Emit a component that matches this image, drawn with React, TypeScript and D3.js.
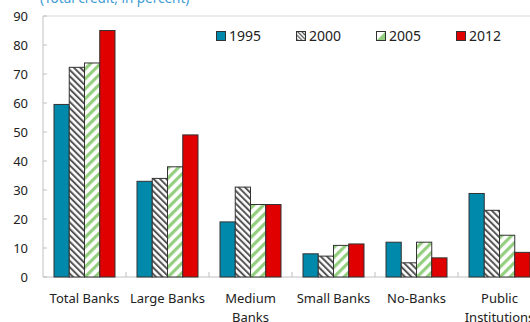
import React from "react";
import * as d3 from "d3";

const categories = ["Total Banks", "Large Banks", "Medium Banks", "Small Banks", "No-Banks", "Public Institutions"];
const categoryLines = [["Total Banks"], ["Large Banks"], ["Medium", "Banks"], ["Small Banks"], ["No-Banks"], ["Public", "Institutions"]];
const seriesNames = ["1995", "2000", "2005", "2012"];
const v1995 = [59.5, 33, 19, 8, 12, 28.8];
const v2000 = [72.3, 34, 31, 7.2, 4.9, 23];
const v2005 = [73.8, 38, 25, 10.9, 12, 14.4];
const v2012 = [85, 49, 25, 11.4, 6.6, 8.5];
const yTicks = [0, 10, 20, 30, 40, 50, 60, 70, 80, 90];
const title = "(Total credit, in percent)";

const seriesValues = [v1995, v2000, v2005, v2012];
const fills = ["#0089aa", "url(#hatch2000)", "url(#hatch2005)", "#e00000"];
const legendFills = ["#0089aa", "url(#lhatch2000)", "url(#lgrad2005)", "#e00000"];

const FONT = "'Noto Sans', 'Open Sans', sans-serif";

export default function App() {
  const W = 530, H = 322;
  const left = 43, right = 541, top = 16, bottom = 277;
  const x0 = d3.scaleBand<string>().domain(categories).range([left, right]).padding(0);
  const x1 = d3.scaleBand<string>().domain(seriesNames).range([11, x0.bandwidth() - 11]).padding(0);
  const y = d3.scaleLinear().domain([0, 90]).range([bottom, top]);
  const axisColor = "#c0c0c0";

  return (
    <svg width={W} height={H} style={{ position: "absolute", left: 0, top: 0, fontFamily: FONT }}>
      <defs>
        <pattern id="hatch2000" patternUnits="userSpaceOnUse" width="4.5" height="4.5" patternTransform="rotate(-45)">
          <rect width="4.5" height="4.5" fill="#fff" />
          <rect x="0" y="0" width="2" height="4.5" fill="#555" />
        </pattern>
        <pattern id="hatch2005" patternUnits="userSpaceOnUse" width="7" height="7" patternTransform="rotate(45)">
          <rect width="7" height="7" fill="#fff" />
          <rect x="0" y="0" width="3.2" height="7" fill="#93cf7f" />
        </pattern>
        <pattern id="lhatch2000" patternUnits="userSpaceOnUse" width="3" height="3" patternTransform="rotate(-45)">
          <rect width="3" height="3" fill="#fff" />
          <rect x="0" y="0" width="1.3" height="3" fill="#555" />
        </pattern>
        <linearGradient id="lgrad2005" x1="0" y1="0" x2="1" y2="1">
          <stop offset="0.45" stopColor="#ffffff" />
          <stop offset="0.55" stopColor="#93cf7f" />
        </linearGradient>
      </defs>
      <rect width={W} height={H} fill="#fff" />
      <text x={40} y={3} fontSize={13.5} fill="#3d9bd6">{title}</text>

      {/* plot frame */}
      <line x1={left} x2={W} y1={top} y2={top} stroke="#d9d9d9" />
      <line x1={left} x2={left} y1={top} y2={bottom} stroke={axisColor} />
      <line x1={left} x2={W} y1={bottom} y2={bottom} stroke={axisColor} />

      {yTicks.map((t) => (
        <g key={t}>
          <line x1={left} x2={left + 4} y1={y(t)} y2={y(t)} stroke={axisColor} />
          <text x={28} y={y(t)} dy="0.35em" textAnchor="end" fontSize={13} fill="#222">{t}</text>
        </g>
      ))}

      {categories.slice(1).map((c) => (
        <line key={c} x1={x0(c)!} x2={x0(c)!} y1={bottom} y2={bottom - 5} stroke={axisColor} />
      ))}

      {categories.map((c, ci) => (
        <g key={c} transform={`translate(${x0(c)},0)`}>
          {seriesNames.map((s, si) => {
            const v = seriesValues[si][ci];
            return (
              <rect key={s} x={x1(s)!} y={y(v)} width={x1.bandwidth()} height={bottom - y(v)}
                fill={fills[si]} stroke="#333" strokeWidth={1} />
            );
          })}
          {categoryLines[ci].map((ln, li) => (
            <text key={li} x={x0.bandwidth() / 2} y={298 + li * 19} dy="0.35em" textAnchor="middle" fontSize={13} fill="#222">{ln}</text>
          ))}
        </g>
      ))}

      {seriesNames.map((s, i) => (
        <g key={s} transform={`translate(${216 + i * 80},31)`}>
          <rect x={0.5} y={0.5} width={9} height={9} fill={legendFills[i]} stroke="#333" strokeWidth={1} />
          <text x={13} y={5} dy="0.35em" fontSize={14} fill="#222">{s}</text>
        </g>
      ))}
    </svg>
  );
}
